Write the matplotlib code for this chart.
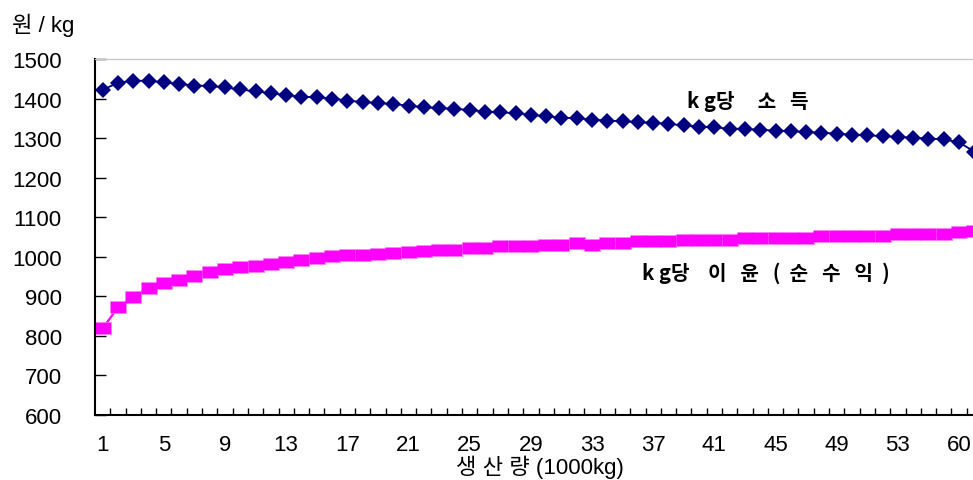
import numpy as np
import matplotlib.pyplot as plt

plt.rcParams['font.family'] = ['Liberation Sans', 'Noto Sans CJK KR', 'DejaVu Sans']

# kg당 소득 (원/kg), one value per production step
income_per_kg = [1422, 1440, 1445, 1445, 1441, 1437, 1433, 1432, 1428, 1423,
                 1418, 1414, 1408, 1405, 1403, 1400, 1395, 1391, 1389, 1386,
                 1382, 1378, 1376, 1374, 1371, 1367, 1365, 1363, 1359, 1355,
                 1352, 1350, 1347, 1344, 1343, 1340, 1339, 1336, 1332, 1329,
                 1327, 1324, 1323, 1321, 1319, 1318, 1315, 1314, 1311, 1309,
                 1307, 1305, 1303, 1301, 1299, 1297, 1289, 1266]

# kg당 이윤 (순수익)
profit_per_kg = [819, 872, 899, 921, 934, 942, 952, 961, 969, 973,
                 977, 983, 987, 992, 996, 1001, 1004, 1004, 1008, 1009,
                 1011, 1014, 1017, 1017, 1021, 1021, 1026, 1026, 1026, 1029,
                 1029, 1034, 1029, 1034, 1035, 1039, 1039, 1039, 1043, 1043,
                 1043, 1043, 1048, 1048, 1048, 1048, 1048, 1053, 1053, 1053,
                 1053, 1053, 1057, 1057, 1057, 1057, 1062, 1066]

# category labels shown on the production axis (every 4th step)
tick_labels = ['1', '5', '9', '13', '17', '21', '25', '29', '33', '37',
               '41', '45', '49', '53', '60']

W, H = 973, 481
fig = plt.figure(figsize=(W / 100, H / 100), dpi=100)
ax = fig.add_axes([95 / W, (H - 416) / H, 887 / W, (416 - 60) / H])

x = np.arange(len(income_per_kg))
rect = [(-0.5, -0.4), (0.5, -0.4), (0.5, 0.4), (-0.5, 0.4)]

ax.plot(x, income_per_kg, color='#000080', linewidth=1.3, marker='D',
        markersize=7.8, markeredgewidth=0, clip_on=False)
ax.plot(x, profit_per_kg, color='#FF00FF', linewidth=1.6, marker=rect,
        markersize=11, markeredgecolor='#FF80FF', markeredgewidth=0.5,
        clip_on=False)

ax.set_xlim(-0.5, len(x) - 0.5)
ax.set_ylim(600, 1500)

ax.set_yticks(range(600, 1501, 100))
ax.tick_params(axis='y', direction='in', length=8, width=1, pad=24,
               labelsize=16, colors='black')

ax.set_xticks(x[::4][:len(tick_labels)])
ax.set_xticklabels(tick_labels)
ax.set_xticks(np.arange(len(x)) + 0.5, minor=True)
ax.tick_params(axis='x', which='major', length=0, pad=14, labelsize=16)
ax.tick_params(axis='x', which='minor', direction='in', length=5, width=1)

for side in ['left', 'bottom']:
    ax.spines[side].set_linewidth(1.5)
ax.spines['top'].set_color('#c8c8c8')
ax.spines['top'].set_linewidth(1)
ax.spines['right'].set_visible(False)

fig.text(12 / W, 1 - 25 / H, '원 / kg', ha='left', va='center', fontsize=16)
fig.text(540 / W, 1 - 467 / H, '생 산 량 (1000kg)', ha='center', va='center',
         fontsize=16)

fig.text(748 / W, 1 - 102 / H, 'k g당     소   득', ha='center', va='center',
         fontsize=14.5, fontweight='bold', family=['Noto Sans CJK KR', 'DejaVu Sans'])
fig.text(766 / W, 1 - 273 / H, 'k g당    이   윤   (  순   수   익  )', ha='center', va='center',
         fontsize=14.5, fontweight='bold', family=['Noto Sans CJK KR', 'DejaVu Sans'])

fig.savefig('out.png', dpi=100)
